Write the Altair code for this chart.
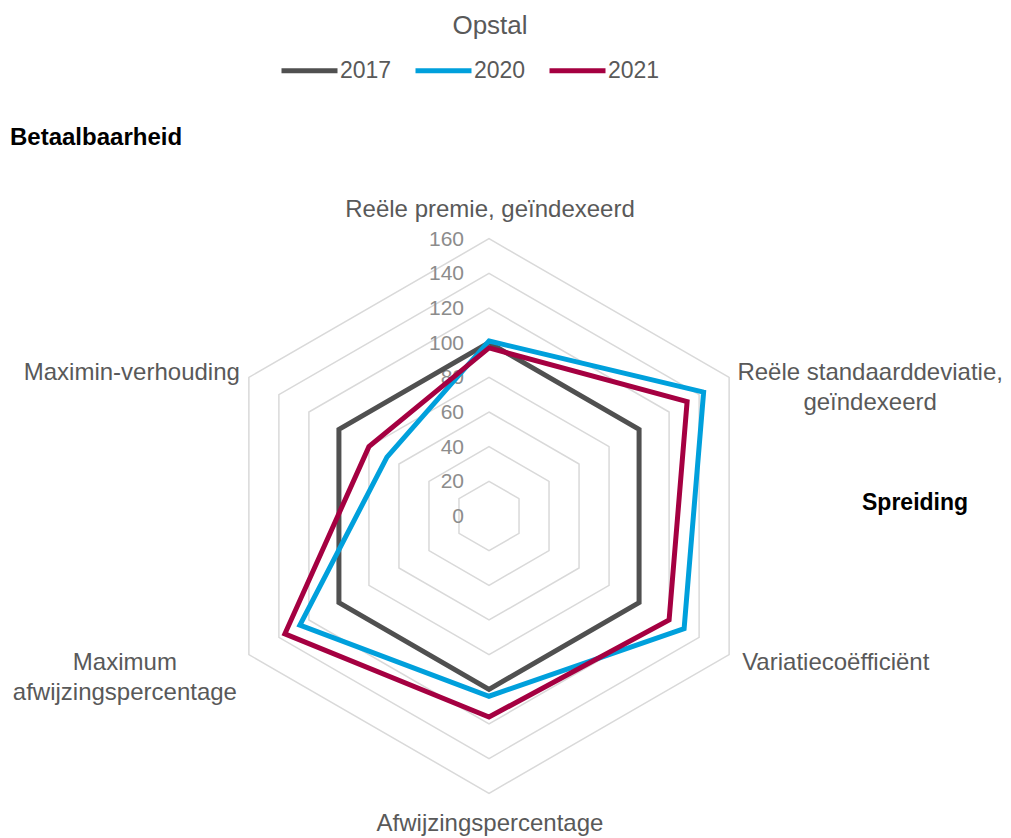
import altair as alt
import pandas as pd

# ---------------- data ----------------
axes_names = [
    "Reële premie, geïndexeerd",
    "Reële standaarddeviatie, geïndexeerd",
    "Variatiecoëfficiënt",
    "Afwijzingspercentage",
    "Maximum afwijzingspercentage",
    "Maximin-verhouding",
]
axis_labels = [
    "Reële premie, geïndexeerd",
    "Reële standaarddeviatie,\ngeïndexeerd",
    "Variatiecoëfficiënt",
    "Afwijzingspercentage",
    "Maximum\nafwijzingspercentage",
    "Maximin-verhouding",
]
years = ["2017", "2020", "2021"]
v2017 = [100, 100, 100, 100, 100, 100]
v2020 = [101, 143, 130, 104, 126, 68]
v2021 = [97, 132, 120, 116, 136, 80]
grid_levels = [20, 40, 60, 80, 100, 120, 140, 160]
tick_levels = [0, 20, 40, 60, 80, 100, 120, 140, 160]
annotations = ["Betaalbaarheid", "Spreiding"]
chart_title = "Opstal"

colors = ["#505050", "#00a0dc", "#a50041"]
TEXT = "#595959"
FONT = "Liberation Sans"

# ---------------- geometry of the view (scales only) ----------------
W, H = 995, 730
PAD_TOP = 100
K = 1.733            # px per unit
CX, CY = 481, 408    # center of the radar inside the plot area (px)
x_scale = alt.Scale(domain=[-CX / K, (W - CX) / K], nice=False, zero=False)
y_scale = alt.Scale(domain=[-(H - CY) / K, CY / K], nice=False, zero=False)

n = len(axes_names)
step_deg = 360 / n

series_rows = []
for yr, vals in zip(years, [v2017, v2020, v2021]):
    for s in range(n + 2):
        i = s % n
        series_rows.append({"year": yr, "step": s, "axis": axes_names[i],
                            "angle": i * step_deg, "r": vals[i]})
series_df = pd.DataFrame(series_rows)

grid_rows = []
for lv in grid_levels:
    for s in range(n + 2):
        i = s % n
        grid_rows.append({"level": lv, "step": s, "angle": i * step_deg, "r": lv})
grid_df = pd.DataFrame(grid_rows)

tick_df = pd.DataFrame({"level": tick_levels, "angle": 0, "r": tick_levels})

calc = dict(
    px="datum.r * sin(datum.angle * PI / 180)",
    py="datum.r * cos(datum.angle * PI / 180)",
)
X = alt.X("px:Q", scale=x_scale, axis=None)
Y = alt.Y("py:Q", scale=y_scale, axis=None)

grid = alt.Chart(grid_df).transform_calculate(**calc).mark_line(
    color="#d9d9d9", strokeWidth=1.5, strokeJoin="miter"
).encode(x=X, y=Y, detail="level:N", order="step:Q")

ticks = alt.Chart(tick_df).transform_calculate(**calc).mark_text(
    align="right", baseline="middle", dx=-25, dy=1, fontSize=21,
    font=FONT, color="#8c8c8c"
).encode(x=X, y=Y, text="level:Q")

lines = alt.Chart(series_df).transform_calculate(**calc).mark_line(
    strokeWidth=5, strokeJoin="miter"
).encode(
    x=X, y=Y,
    color=alt.Color(
        "year:N",
        scale=alt.Scale(domain=years, range=colors),
        legend=alt.Legend(
            title=None, orient="none", direction="horizontal",
            legendX=271, legendY=-68,
            symbolType="stroke", symbolSize=3136, symbolStrokeWidth=5,
            labelFontSize=23, labelFont=FONT, labelColor=TEXT,
            labelOffset=0, columnPadding=13,
        ),
    ),
    order="step:Q",
)

# per-label placement style: (align, dx, dy)
label_style = [
    ("center", 1, -29),
    ("center", 141, -4),
    ("left", 13, 8),
    ("center", 1, 31),
    ("center", -124, 8),
    ("right", -9, -4),
]
label_layers = []
for i, (al, dx, dy) in enumerate(label_style):
    d = pd.DataFrame({"label": [axis_labels[i]], "angle": [i * step_deg],
                      "r": [grid_levels[-1]]})
    label_layers.append(
        alt.Chart(d).transform_calculate(**calc).mark_text(
            align=al, baseline="middle", dx=dx, dy=dy, fontSize=24,
            font=FONT, color=TEXT, lineBreak="\n", lineHeight=30
        ).encode(x=X, y=Y, text="label:N")
    )

title_mark = alt.Chart(pd.DataFrame({"t": [chart_title]})).mark_text(
    align="center", baseline="middle", fontSize=26, font=FONT, color=TEXT
).encode(x=alt.value(482), y=alt.value(-82), text="t:N")

ann1 = alt.Chart(pd.DataFrame({"t": [annotations[0]]})).mark_text(
    align="left", baseline="middle", fontSize=24, fontWeight="bold",
    font=FONT, color="#000000"
).encode(x=alt.value(2), y=alt.value(30), text="t:N")
ann2 = alt.Chart(pd.DataFrame({"t": [annotations[1]]})).mark_text(
    align="left", baseline="middle", fontSize=23, fontWeight="bold",
    font=FONT, color="#000000"
).encode(x=alt.value(854), y=alt.value(395), text="t:N")

chart = alt.layer(grid, ticks, lines, *label_layers, title_mark, ann1, ann2).properties(
    width=W, height=H,
    autosize=alt.AutoSizeParams(type="none"),
    padding={"left": 0, "top": PAD_TOP, "right": 0, "bottom": 0},
).configure_view(stroke=None)

chart.save("out.html", embed_options={"renderer": "svg", "actions": False})
